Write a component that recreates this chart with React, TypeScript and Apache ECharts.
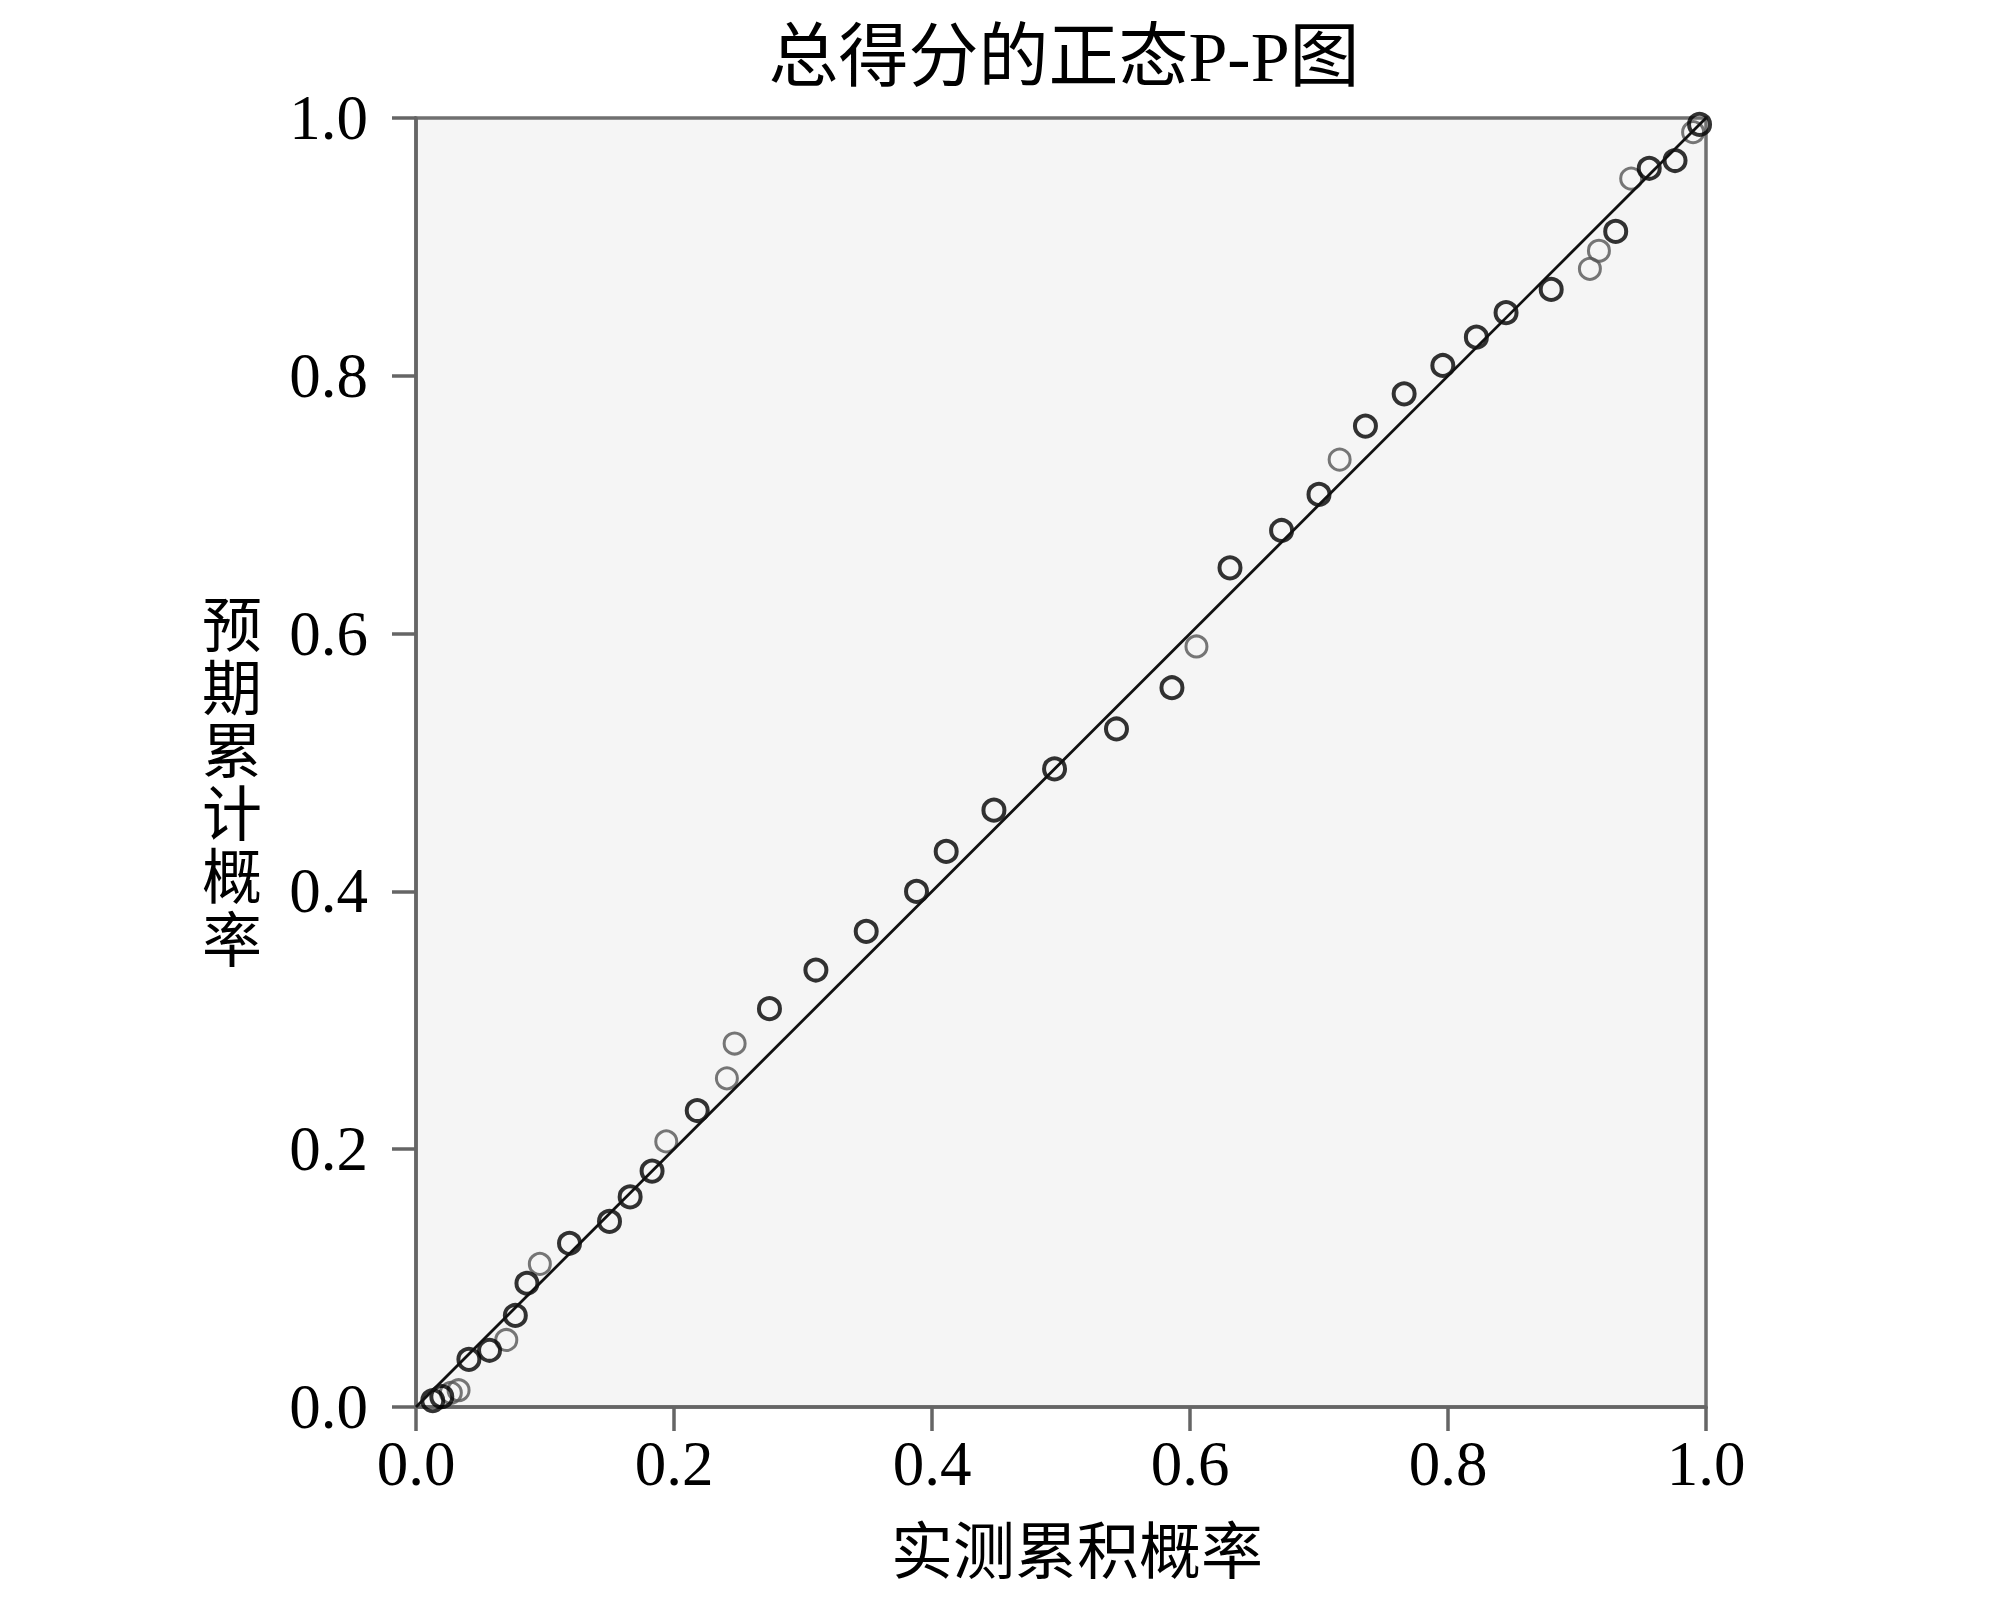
import React, { useEffect, useRef } from "react";
import * as echarts from "echarts";

const titleText = "总得分的正态P-P图";
const xAxisName = "实测累积概率";
const yAxisName = "预期累计概率";
const tickValues = [0, 0.2, 0.4, 0.6, 0.8, 1.0];

// darker (overlapping) points: observed cumulative prob, expected cumulative prob
const darkObserved = [0.013, 0.020, 0.041, 0.057, 0.077, 0.086, 0.119, 0.150, 0.166, 0.183, 0.218, 0.274, 0.310, 0.349, 0.388, 0.411, 0.448, 0.495, 0.543, 0.586, 0.631, 0.671, 0.700, 0.736, 0.766, 0.796, 0.822, 0.845, 0.880, 0.930, 0.956, 0.976, 0.995];
const darkExpected = [0.005, 0.008, 0.037, 0.044, 0.071, 0.096, 0.127, 0.144, 0.163, 0.183, 0.230, 0.309, 0.339, 0.369, 0.400, 0.431, 0.463, 0.495, 0.526, 0.558, 0.651, 0.680, 0.708, 0.761, 0.786, 0.808, 0.830, 0.849, 0.867, 0.912, 0.961, 0.967, 0.995];

// lighter (single) points
const lightObserved = [0.027, 0.033, 0.070, 0.096, 0.194, 0.241, 0.247, 0.605, 0.716, 0.910, 0.917, 0.942, 0.990];
const lightExpected = [0.011, 0.013, 0.052, 0.111, 0.206, 0.255, 0.282, 0.590, 0.735, 0.883, 0.897, 0.953, 0.989];

const refLine = [
  [0, 0],
  [1, 1],
];

const FONT = "'Liberation Serif', 'Noto Sans CJK SC', serif";

export default function App() {
  const ref = useRef<HTMLDivElement>(null);

  useEffect(() => {
    if (!ref.current) return;
    const chart = echarts.init(ref.current, undefined, { renderer: "svg" });
    const dark = darkObserved.map((x, i) => [x, darkExpected[i]]);
    const light = lightObserved.map((x, i) => [x, lightExpected[i]]);
    const axisColor = "#656565";
    const axisCommon = {
      type: "value" as const,
      min: tickValues[0],
      max: tickValues[tickValues.length - 1],
      interval: 0.2,
      splitLine: { show: false },
      axisLine: { show: true, lineStyle: { color: axisColor, width: 3.5 } },
      axisTick: { show: true, length: 24, lineStyle: { color: axisColor, width: 3.5 } },
    };
    chart.setOption({
      animation: false,
      backgroundColor: "#ffffff",
      grid: {
        left: 416,
        top: 118,
        width: 1290,
        height: 1289,
        show: true,
        backgroundColor: "#f5f5f5",
        borderColor: "#707070",
        borderWidth: 3.5,
      },
      xAxis: {
        ...axisCommon,
        axisLabel: {
          fontFamily: FONT,
          fontSize: 63,
          color: "#000",
          margin: 25,
          formatter: (v: number) => v.toFixed(1),
        },
      },
      yAxis: {
        ...axisCommon,
        axisLabel: {
          fontFamily: FONT,
          fontSize: 63,
          color: "#000",
          margin: 48,
          formatter: (v: number) => v.toFixed(1),
        },
      },
      graphic: [
        {
          type: "text",
          x: 1064,
          y: 57,
          style: {
            text: titleText,
            fontFamily: FONT,
            fontSize: 70,
            fill: "#000",
            align: "center",
            verticalAlign: "middle",
          },
        },
        {
          type: "text",
          x: 1077,
          y: 1553,
          style: {
            text: xAxisName,
            fontFamily: FONT,
            fontSize: 62,
            fill: "#000",
            align: "center",
            verticalAlign: "middle",
          },
        },
        {
          type: "text",
          x: 232,
          y: 784,
          style: {
            text: yAxisName.split("").join("\n"),
            fontFamily: FONT,
            fontSize: 60,
            lineHeight: 63,
            fill: "#000",
            align: "center",
            verticalAlign: "middle",
          },
        },
      ],
      series: [
        {
          type: "scatter",
          data: light,
          symbol: "circle",
          symbolSize: 21,
          itemStyle: { color: "rgba(0,0,0,0)", borderColor: "#555555", borderWidth: 3 },
          z: 2,
        },
        {
          type: "scatter",
          data: dark,
          symbol: "circle",
          symbolSize: 21,
          itemStyle: { color: "rgba(0,0,0,0)", borderColor: "#000000", borderWidth: 4 },
          z: 3,
        },
        {
          type: "line",
          data: refLine,
          symbol: "none",
          lineStyle: { color: "#111", width: 2.8 },
          z: 4,
        },
      ],
    });
    return () => chart.dispose();
  }, []);

  return (
    <div
      ref={ref}
      style={{ position: "absolute", left: 0, top: 0, width: 1999, height: 1600 }}
    />
  );
}
